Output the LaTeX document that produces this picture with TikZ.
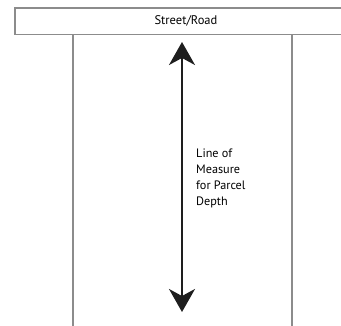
\documentclass[tikz,border=0pt]{standalone}
\usepackage{fontspec}
\setmainfont{PT Sans}
\usetikzlibrary{arrows.meta,positioning}
\definecolor{lotgray}{RGB}{140,140,140}
\definecolor{arrowblack}{RGB}{30,30,30}
\tikzset{
  lotline/.style={
    draw=lotgray,
    line width=1.3pt,
  },
  measurearrow/.style={
    draw=arrowblack,
    line width=2pt,
    {Stealth[length=23pt,width=26pt,inset=7pt]}-{Stealth[length=23pt,width=26pt,inset=7pt]},
  },
  labeltext/.style={
    align=left,
    inner sep=0pt,
    font=\fontsize{12.2}{16}\selectfont,
  }
}
\begin{document}
\begin{tikzpicture}[x=1pt,y=-1pt]
\useasboundingbox (0,0) rectangle (341,326);

% street along the top
\draw[lotline] (350,8) -- (15,8) -- (15,34.5) -- (350,34.5);
\node[font=\fontsize{12.5}{14}\selectfont] (street) at (186,21) {Street/Road};

% parcel side lines
\coordinate (lefttop) at (73,34.5);
\coordinate (leftbot) at (73,330);
\coordinate (righttop) at (292,34.5);
\coordinate (rightbot) at (292,330);
\draw[lotline] (lefttop) -- (leftbot);
\draw[lotline] (righttop) -- (rightbot);

% line of measure
\coordinate (depthtop) at (182,42);
\coordinate (depthbot) at (182,312);
\draw[measurearrow] (depthtop) -- (depthbot);

\node[labeltext, anchor=north west] (depthlabel) at (196,149)
  {Line of\\Measure\\for Parcel\\Depth};

\end{tikzpicture}
\end{document}
